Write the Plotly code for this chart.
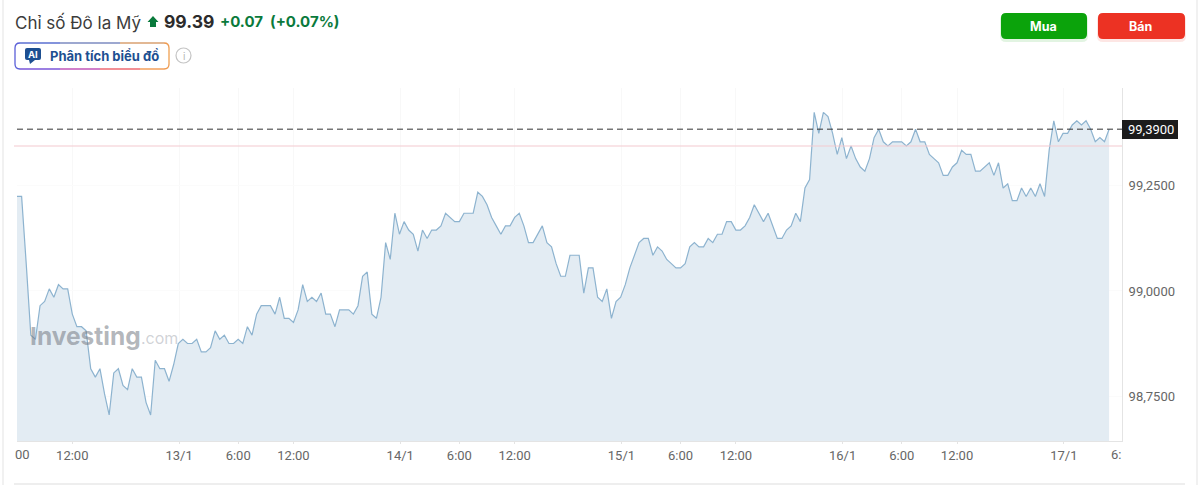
import pandas as pd
import plotly.graph_objects as go

W, H = 1200, 485
M_L, M_R, M_T, M_B = 17, 78, 88, 44

START = "2026-01-12 06:00"
STEP = "30min"

prices = [
    99.23, 99.23, 99.07, 98.90, 98.89, 98.97, 98.98, 99.01, 98.99, 99.02,
    99.01, 99.01, 98.95, 98.92, 98.92, 98.91, 98.82, 98.80, 98.82, 98.76,
    98.71, 98.81, 98.82, 98.78, 98.77, 98.82, 98.80, 98.80, 98.74, 98.71,
    98.84, 98.82, 98.82, 98.79, 98.83, 98.88, 98.89, 98.88, 98.88, 98.89,
    98.86, 98.86, 98.87, 98.91, 98.89, 98.90, 98.88, 98.88, 98.89, 98.88,
    98.92, 98.90, 98.95, 98.97, 98.97, 98.97, 98.95, 98.99, 98.94, 98.94,
    98.93, 98.96, 99.02, 98.98, 98.99, 98.98, 99.00, 98.95, 98.95, 98.92,
    98.96, 98.96, 98.96, 98.95, 98.97, 99.04, 99.05, 98.95, 98.94, 98.99,
    99.12, 99.08, 99.19, 99.14, 99.17, 99.15, 99.14, 99.10, 99.15, 99.13,
    99.15, 99.15, 99.16, 99.19, 99.18, 99.17, 99.17, 99.19, 99.19, 99.19,
    99.24, 99.23, 99.21, 99.18, 99.16, 99.14, 99.16, 99.16, 99.18, 99.19,
    99.16, 99.12, 99.12, 99.14, 99.16, 99.12, 99.11, 99.07, 99.04, 99.04,
    99.09, 99.09, 99.09, 99.00, 99.06, 99.06, 98.99, 98.98, 99.01, 98.94,
    98.98, 98.99, 99.02, 99.06, 99.09, 99.12, 99.13, 99.13, 99.09, 99.11,
    99.10, 99.08, 99.07, 99.06, 99.06, 99.07, 99.11, 99.12, 99.11, 99.11,
    99.13, 99.12, 99.14, 99.14, 99.17, 99.17, 99.15, 99.15, 99.16, 99.18,
    99.21, 99.19, 99.17, 99.19, 99.16, 99.13, 99.13, 99.15, 99.16, 99.19,
    99.17, 99.25, 99.27, 99.43, 99.38, 99.43, 99.42, 99.38, 99.33, 99.37,
    99.32, 99.35, 99.32, 99.30, 99.29, 99.32, 99.37, 99.39, 99.36, 99.35,
    99.36, 99.36, 99.36, 99.35, 99.36, 99.39, 99.36, 99.36, 99.33, 99.32,
    99.31, 99.28, 99.28, 99.30, 99.31, 99.34, 99.33, 99.33, 99.29, 99.29,
    99.30, 99.31, 99.28, 99.31, 99.25, 99.26, 99.22, 99.22, 99.25, 99.23,
    99.25, 99.23, 99.26, 99.23, 99.34, 99.41, 99.36, 99.38, 99.38, 99.40,
    99.41, 99.40, 99.41, 99.39, 99.36, 99.37, 99.36, 99.39,
]
last_price = 99.39
prev_close = 99.35

# the day ticks sit a little before midnight in the original chart
x_ticks = [
    "2026-01-12 12:00", "2026-01-12 23:35", "2026-01-13 06:00", "2026-01-13 12:00",
    "2026-01-13 23:35", "2026-01-14 06:00", "2026-01-14 12:00",
    "2026-01-14 23:35", "2026-01-15 06:00", "2026-01-15 12:00",
    "2026-01-15 23:35", "2026-01-16 06:00", "2026-01-16 12:00",
    "2026-01-16 23:35",
]
x_labels = [
    "12:00", "13/1", "6:00", "12:00", "14/1", "6:00", "12:00",
    "15/1", "6:00", "12:00", "16/1", "6:00", "12:00", "17/1",
]
# axis labels stand about 2px above where the price scale puts them
y_ticks = [98.755, 99.005, 99.255]
y_labels = ["98,7500", "99,0000", "99,2500"]

times = pd.date_range(START, periods=len(prices), freq=STEP)


def px(x):
    return (x - M_L) / (W - M_L - M_R)


def py(y):
    return 1 - (y - M_T) / (H - M_T - M_B)


def box(x0, y0, x1, y1, r, **kw):
    # rounded rectangle, given in page pixels
    a, b, c, d = px(x0), px(x1), py(y0), py(y1)
    rx = r / (W - M_L - M_R)
    ry = r / (H - M_T - M_B)
    path = (
        f"M{a + rx},{c} L{b - rx},{c} Q{b},{c} {b},{c - ry} L{b},{d + ry} Q{b},{d} {b - rx},{d} "
        f"L{a + rx},{d} Q{a},{d} {a},{d + ry} L{a},{c - ry} Q{a},{c} {a + rx},{c} Z"
    )
    return dict(type="path", path=path, xref="paper", yref="paper", **kw)


def seg(x0, y0, x1, y1, color, width=1.3):
    return dict(type="line", xref="paper", yref="paper", x0=px(x0), y0=py(y0), x1=px(x1), y1=py(y1),
                line=dict(color=color, width=width))


def label(x, y, text, size, color, family="Inter", anchor="center", **kw):
    return dict(xref="paper", yref="paper", x=px(x), y=py(y), text=text, showarrow=False,
                xanchor=anchor, yanchor="middle", font=dict(family=family, size=size, color=color), **kw)


fig = go.Figure()
fig.add_trace(go.Scatter(
    x=times, y=prices, mode="lines", fill="tozeroy",
    line=dict(color="#8db3cf", width=1.2), fillcolor="#e3ecf3", hoverinfo="skip",
))

shapes = [
    # page frame
    seg(3, 0, 3, 485, "#ececec", 1.5),
    seg(1197, 0, 1197, 485, "#ececec", 1.5),
    seg(14, 484, 1185, 484, "#e8e8e8", 1.5),
    # price lines
    dict(type="line", xref="x domain", yref="y", x0=0, x1=1, y0=last_price, y1=last_price,
         line=dict(color="#333333", width=1, dash="6px,4px")),
    dict(type="line", xref="paper", yref="y", x0=px(14), x1=1, y0=prev_close, y1=prev_close,
         line=dict(color="#f4c9cf", width=1.2)),
    # price tag
    dict(type="rect", xref="paper", yref="paper", x0=px(1122), x1=px(1178), y0=py(120), y1=py(139),
         fillcolor="#1c1c1c", line_width=0),
    # buy and sell buttons
    box(1000, 14, 1088, 42, 6, fillcolor="rgba(14,165,14,0.12)", line_width=0),
    box(1097, 14, 1186, 42, 6, fillcolor="rgba(238,50,36,0.12)", line_width=0),
    box(1001, 13, 1087, 39, 5, fillcolor="#0ba30b", line_width=0),
    box(1098, 13, 1185, 39, 5, fillcolor="#ec3223", line_width=0),
    # up arrow next to the price
    dict(type="path", xref="paper", yref="paper", line_width=0, fillcolor="#0a7a3c",
         path=f"M{px(153)},{py(16)} L{px(158.5)},{py(22)} L{px(156)},{py(22)} L{px(156)},{py(27)} "
              f"L{px(150)},{py(27)} L{px(150)},{py(22)} L{px(147.5)},{py(22)} Z"),
    # AI chip border, colour runs from blue round to orange
    seg(20, 43, 60, 43, "#5a6fd0"), seg(60, 43, 120, 43, "#7c8bc0"), seg(120, 43, 164, 43, "#d9a070"),
    seg(15, 48, 15, 64, "#5a5fd8"),
    seg(20, 69, 60, 69, "#7a55d8"), seg(60, 69, 100, 69, "#c055b8"), seg(100, 69, 140, 69, "#ee6a70"),
    seg(140, 69, 164, 69, "#f29040"),
    seg(169, 48, 169, 64, "#f0a050"),
    dict(type="path", xref="paper", yref="paper", fillcolor="rgba(0,0,0,0)",
         line=dict(color="#5a5fd8", width=1.3),
         path=f"M{px(15)},{py(48)} Q{px(15)},{py(43)} {px(20)},{py(43)} M{px(15)},{py(64)} Q{px(15)},{py(69)} {px(20)},{py(69)}"),
    dict(type="path", xref="paper", yref="paper", fillcolor="rgba(0,0,0,0)",
         line=dict(color="#ee9a50", width=1.3),
         path=f"M{px(164)},{py(43)} Q{px(169)},{py(43)} {px(169)},{py(48)} M{px(169)},{py(64)} Q{px(169)},{py(69)} {px(164)},{py(69)}"),
    # AI icon bubble
    box(25, 48, 41, 60, 2, fillcolor="#1d4f91", line_width=0),
    dict(type="path", xref="paper", yref="paper", line_width=0, fillcolor="#1d4f91",
         path=f"M{px(29)},{py(60)} L{px(35)},{py(60)} L{px(30)},{py(64)} Z"),
    # info icon
    dict(type="circle", xref="paper", yref="paper", x0=px(176), x1=px(191), y0=py(48), y1=py(63),
         line=dict(color="#c4c4c4", width=1.2), fillcolor="rgba(0,0,0,0)"),
]

annotations = [
    label(13, 22, "Chỉ số Đô la Mỹ", 17, "#3c3c3c", anchor="left"),
    label(162, 21.5, "<b>99.39</b>", 17.5, "#2b2b2b", anchor="left"),
    label(218, 21.5, "<b>+0.07</b>", 15, "#0a7a3c", anchor="left"),
    label(268, 21.5, "<b>(+0.07%)</b>", 15, "#0a7a3c", anchor="left"),
    label(1043, 26, "<b>Mua</b>", 12.5, "#ffffff"),
    label(1140, 26, "<b>Bán</b>", 12.5, "#ffffff"),
    label(33, 54, "<b>AI</b>", 9.5, "#ffffff"),
    label(48, 56, "<b>Phân tích biểu đồ</b>", 13, "#1d4f91", anchor="left"),
    label(183.5, 55.5, "i", 10, "#b5b5b5"),
    label(28, 336, "<b>Investing</b>", 24.5, "rgba(115,120,130,0.55)", anchor="left"),
    label(139, 338, ".com", 16, "rgba(150,155,165,0.45)", anchor="left"),
    label(1151, 129.5, "99,3900", 13, "#ffffff", family="Roboto"),
    # first and last tick labels are cut by the plot edges
    label(22, 454, "00", 13, "#666666", family="Roboto"),
    label(1116, 454, "6:", 13, "#666666", family="Roboto"),
]

fig.update_layout(
    width=W, height=H,
    margin=dict(l=M_L, r=M_R, t=M_T, b=M_B),
    paper_bgcolor="#ffffff", plot_bgcolor="#ffffff",
    showlegend=False,
    shapes=shapes,
    annotations=annotations,
    xaxis=dict(
        type="date",
        range=["2026-01-12 06:00", "2026-01-17 05:54"],
        tickmode="array", tickvals=x_ticks, ticktext=x_labels,
        tickangle=0,
        tickfont=dict(family="Roboto", size=13, color="#666666"),
        ticks="outside", ticklen=2, tickcolor="#e4e4e4",
        showgrid=True, gridcolor="#f8f8f8",
        showline=True, linecolor="#e4e4e4",
        zeroline=False,
    ),
    yaxis=dict(
        side="right",
        range=[98.648, 99.488],
        tickmode="array", tickvals=y_ticks, ticktext=y_labels,
        tickfont=dict(family="Roboto", size=13, color="#666666"),
        ticks="", ticklabelstandoff=3,
        showgrid=True, gridcolor="#fbfbfb",
        showline=True, linecolor="#e4e4e4",
        zeroline=False,
    ),
)

fig.write_html("out.html", config=dict(displayModeBar=False), post_script="document.body.style.margin='0';")
